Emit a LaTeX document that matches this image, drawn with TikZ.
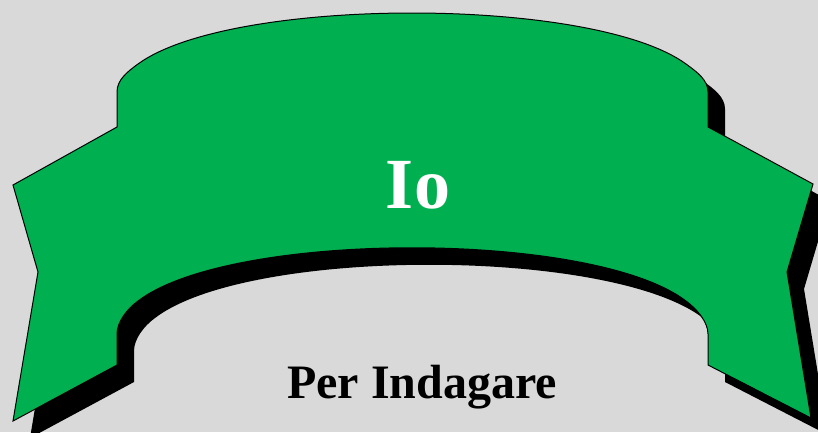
\documentclass[tikz,border=0pt]{standalone}
\usepackage{fontspec}
\setmainfont{Liberation Serif}
\usetikzlibrary{positioning}

\definecolor{bannergreen}{HTML}{00B050}
\definecolor{backgray}{HTML}{D9D9D9}

\begin{document}
\begin{tikzpicture}[
  x=1pt, y=-1pt,
  banner/.style={insert path={
    (117,127) -- (117,92) .. controls (117,80) and (127,72) .. (138,64)
    .. controls (231,-4) and (593,-4) .. (686,64)
    .. controls (697,72) and (708,80) .. (708,92) -- (708,127)
    -- (813,184) -- (787,272) -- (811,418) -- (708,365) -- (708,334)
    .. controls (708,322) and (697,309) .. (686,301)
    .. controls (593,230) and (231,230) .. (138,301)
    .. controls (127,309) and (117,322) .. (117,334) -- (117,365)
    -- (13,421) -- (38,272) -- (13,185) -- cycle}},
  shadow/.style={fill=black, shift={(17,17)}},
  ribbon/.style={draw=black, fill=bannergreen, line width=1pt, line join=miter},
  title/.style={anchor=base, text=white, font=\bfseries\fontsize{72}{86}\selectfont},
  subtitle/.style={anchor=base, text=black, font=\bfseries\fontsize{48}{58}\selectfont},
]
\fill[backgray] (0,0) rectangle (818,432);
\useasboundingbox (0,0) rectangle (818,432);

% ribbon with its drop shadow
\path[shadow, banner];
\path[ribbon, banner];

\node[title] (io) at (418,208) {Io};
\node[subtitle] (per) at (422,398) {Per Indagare};
\end{tikzpicture}
\end{document}
